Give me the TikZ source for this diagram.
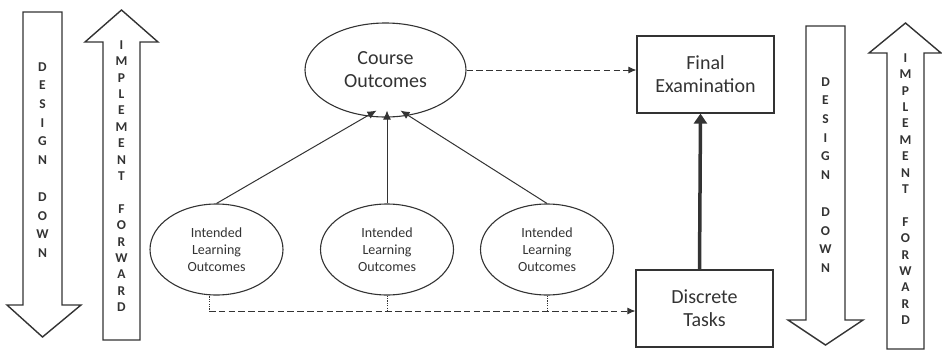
\documentclass[tikz,border=0pt]{standalone}
\usepackage{fontspec}
\setmainfont{Carlito}
\usetikzlibrary{arrows.meta,shapes.geometric,calc}
\definecolor{lc}{HTML}{333333}
\definecolor{tc}{HTML}{333333}
\tikzset{
  bigarrow/.style={draw=lc,line width=1.4pt,fill=white,line join=miter},
  arrowletter/.style={font=\fontsize{13.5}{13.5}\selectfont\bfseries,text=tc,inner sep=0pt},
  oval/.style={ellipse,draw=lc,line width=1.1pt,inner sep=0pt,align=center,text=tc},
  box/.style={rectangle,draw=lc,line width=1.2pt,inner sep=0pt,align=center,text=tc,minimum width=137pt,minimum height=77pt,font=\fontsize{20}{23}\selectfont},
  thinarrow/.style={draw=lc,line width=1pt,-{Latex[length=9pt,width=8pt]}},
  dashline/.style={draw=lc,line width=0.9pt,dash pattern=on 6.5pt off 3.3pt},
  dotline/.style={draw=lc,line width=0.6pt,dash pattern=on 1.2pt off 1.2pt}
}
\begin{document}
\begin{tikzpicture}[x=1pt,y=-1pt]
\useasboundingbox (0,0) rectangle (942,351);
% left DESIGN DOWN arrow
\draw[bigarrow] (23,12) -- (62,12) -- (62,305) -- (81,305) -- (42.5,337) -- (7,305) -- (23,305) -- cycle;
\foreach \l [count=\i from 0] in {D,E,S,I,G,N,{},D,O,W,N}
  \node[arrowletter] at (42.5,67+18.6*\i) {\l};
% left IMPLEMENT FORWARD arrow
\draw[bigarrow] (103,340) -- (103,42) -- (85,42) -- (121.5,10) -- (158,42) -- (140,42) -- (140,340) -- cycle;
\foreach \l [count=\i from 0] in {I,M,P,L,E,M,E,N,T,{},F,O,R,W,A,R,D}
  \node[arrowletter] at (121.5,45+16.4*\i) {\l};
% right DESIGN DOWN arrow
\draw[bigarrow] (806,26) -- (845,26) -- (845,320) -- (863,320) -- (825.5,345) -- (788,320) -- (806,320) -- cycle;
\foreach \l [count=\i from 0] in {D,E,S,I,G,N,{},D,O,W,N}
  \node[arrowletter] at (825.5,82+18.6*\i) {\l};
% right IMPLEMENT FORWARD arrow
\draw[bigarrow] (887,349) -- (887,53) -- (869,53) -- (905.5,23) -- (941,53) -- (924,53) -- (924,349) -- cycle;
\foreach \l [count=\i from 0] in {I,M,P,L,E,M,E,N,T,{},F,O,R,W,A,R,D}
  \node[arrowletter] at (905.5,58+16.4*\i) {\l};
% main nodes
\node[oval,minimum width=161pt,minimum height=94pt,font=\fontsize{20}{23}\selectfont] (co) at (385.5,70) {Course\\Outcomes};
\node[oval,minimum width=133pt,minimum height=91pt,font=\fontsize{14}{17}\selectfont] (ilo1) at (216.5,249.5) {Intended\\Learning\\Outcomes};
\node[oval,minimum width=133pt,minimum height=91pt,font=\fontsize{14}{17}\selectfont] (ilo2) at (387,249.5) {Intended\\Learning\\Outcomes};
\node[oval,minimum width=133pt,minimum height=91pt,font=\fontsize{14}{17}\selectfont] (ilo3) at (547,249.5) {Intended\\Learning\\Outcomes};
\node[box] (fe) at (705.5,74.5) {Final\\Examination};
\node[box] (dt) at (704.5,308.5) {Discrete\\Tasks};
% connectors
\draw[thinarrow] (ilo1.north) -- ($(co.south)+(-9,-7)$);
\draw[thinarrow] (ilo2.north) -- ($(co.south)+(1.5,-7)$);
\draw[thinarrow] (ilo3.north) -- ($(co.south)+(15,-7)$);
\draw[dashline,-{Latex[length=8pt,width=7pt]}] (co.east) -- (co.east -| fe.west);
\draw[draw=lc,line width=3.5pt,-{Triangle[length=10pt,width=13pt]}] ($(dt.north)+(-5,0)$) -- ($(fe.south)+(-5,0)$);
\coordinate (bl) at (209,311);
\coordinate (l1) at ($(ilo1.south)+(-7.5,-1.5)$);
\draw[dotline] (l1) -- (l1 |- bl);
\draw[dotline] (ilo2.south) -- (ilo2.south |- bl);
\draw[dotline] (ilo3.south) -- (ilo3.south |- bl);
\draw[dashline,-{Latex[length=8pt,width=7pt]}] (bl) -- (bl -| dt.west);
\end{tikzpicture}
\end{document}
